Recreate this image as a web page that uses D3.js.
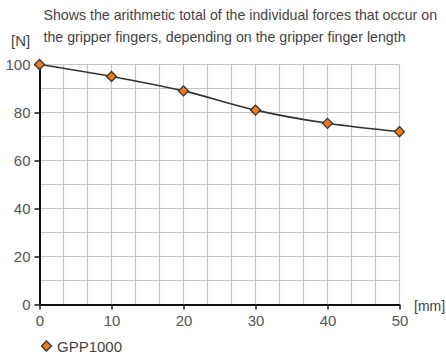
<!DOCTYPE html>
<html><head><meta charset="utf-8">
<script src="https://cdn.jsdelivr.net/npm/d3@7"></script>
<style>body{margin:0;background:#fff}svg{display:block}text{font-family:"Liberation Sans",Arial,sans-serif}</style>
</head><body><svg id="c" width="446" height="356"></svg>
<script>
const lengths = [0, 10, 20, 30, 40, 50];
const forces = [100, 95, 89, 81, 75.5, 72];
const seriesName = "GPP1000";
const xTicks = [0, 10, 20, 30, 40, 50];
const yTicks = [0, 20, 40, 60, 80, 100];
const titleLines = ["Shows the arithmetic total of the individual forces that occur on", "the gripper fingers, depending on the gripper finger length"];
const yUnit = "[N]", xUnit = "[mm]";

const svg = d3.select("#c");
const x = d3.scaleLinear().domain([0, 50]).range([39.5, 399.5]);
const y = d3.scaleLinear().domain([0, 100]).range([304.5, 64.5]);

// grid
const g = svg.append("g");
g.selectAll("line.v").data(d3.range(0, 15).map(i => (i + 1) * 50 / 15)).enter().append("line")
  .attr("x1", d => x(d)).attr("x2", d => x(d)).attr("y1", y(0)).attr("y2", y(100))
  .attr("stroke", "#c4c4c4").attr("stroke-width", 1.2);
g.selectAll("line.h").data(d3.range(1, 11).map(i => i * 10)).enter().append("line")
  .attr("x1", x(0)).attr("x2", x(50)).attr("y1", d => y(d)).attr("y2", d => y(d))
  .attr("stroke", "#c4c4c4").attr("stroke-width", 1.2);

// axes
const xa = svg.append("g").attr("transform", `translate(0,${y(0)})`)
  .call(d3.axisBottom(x).tickValues(xTicks).tickSize(5).tickSizeOuter(0));
const ya = svg.append("g").attr("transform", `translate(${x(0)},0)`)
  .call(d3.axisLeft(y).tickValues(yTicks).tickSize(5).tickSizeOuter(0));
[xa, ya].forEach(a => {
  a.select(".domain").attr("stroke", "#111").attr("stroke-width", 2);
  a.selectAll(".tick line").attr("stroke", "#111").attr("stroke-width", 1.5);
  a.selectAll(".tick text").attr("fill", "#555").style("font-size", "15px").style("font-family", '"Liberation Sans",Arial,sans-serif');
});
xa.selectAll(".tick text").attr("dy", "0.9em");
ya.selectAll(".tick text").attr("dx", "-1px");

// line
const data = lengths.map((l, i) => ({ l, f: forces[i] }));
svg.append("path").datum(data)
  .attr("d", d3.line().x(d => x(d.l)).y(d => y(d.f)).curve(d3.curveMonotoneX))
  .attr("fill", "none").attr("stroke", "#333").attr("stroke-width", 1.6);

svg.selectAll("path.pt").data(data).enter().append("path")
  .attr("d", d3.symbol().type(d3.symbolSquare).size(50))
  .attr("transform", d => `translate(${x(d.l)},${y(d.f)}) rotate(45)`)
  .attr("fill", "#f07a1e").attr("stroke", "#333").attr("stroke-width", 1.3);

// title
svg.append("g").selectAll("text").data(titleLines).enter().append("text")
  .attr("x", 43.5).attr("y", (d, i) => 20 + i * 22)
  .attr("fill", "#444").style("font-size", "14.2px").text(d => d);
svg.append("text").attr("x", 11).attr("y", 46).attr("fill", "#444").style("font-size", "15px").text(yUnit);
svg.append("text").attr("x", 414).attr("y", 311).attr("fill", "#444").style("font-size", "14px").text(xUnit);

// legend
svg.append("path").attr("d", d3.symbol().type(d3.symbolSquare).size(50))
  .attr("transform", "translate(46.5,346) rotate(45)")
  .attr("fill", "#f07a1e").attr("stroke", "#333").attr("stroke-width", 1.3);
svg.append("text").attr("x", 57).attr("y", 351.5).attr("fill", "#444").style("font-size", "15px").text(seriesName);
</script></body></html>
